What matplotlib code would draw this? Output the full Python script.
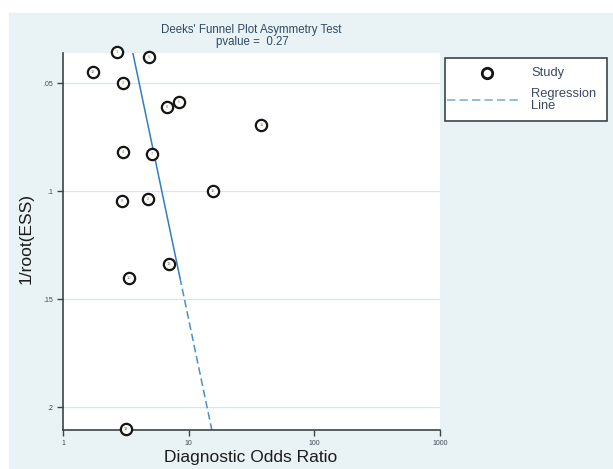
import numpy as np
import matplotlib
matplotlib.use("Agg")
import matplotlib.pyplot as plt
from matplotlib.patches import Rectangle
from matplotlib.lines import Line2D

plt.rcParams['font.family'] = ['Liberation Sans', 'DejaVu Sans']

# study points: diagnostic odds ratio vs 1/root(ESS)
dor = [2.68, 4.82, 1.73, 2.99, 6.69, 8.33, 37.9, 2.99, 5.09, 15.5, 2.94, 4.73, 6.94, 3.34, 3.16]
inv_ess = [0.0356, 0.0380, 0.0449, 0.0500, 0.0611, 0.0588, 0.0694, 0.0819, 0.0829,
           0.1000, 0.1046, 0.1037, 0.1338, 0.1403, 0.2102]
study_id = ['1', '6', '12', '3', '8', '5', '11', '4', '7', '15', '9', '2', '13', '10', '14']

# regression line: log10(DOR) = a + b * 1/root(ESS)
reg_a = 0.4264
reg_b = 3.599
solid_until = 0.14

xticks = [1, 10, 100, 1000]
xtick_labels = ['1', '10', '100', '1000']
yticks = [0.05, 0.10, 0.15, 0.20]
ytick_labels = ['.05', '.1', '.15', '.2']
ylim = (0.2106, 0.036)

W, H = 613, 469
fig = plt.figure(figsize=(W / 100, H / 100), dpi=100, facecolor='white')
fig.patches.append(Rectangle((9 / W, 0), 1, 456 / H, transform=fig.transFigure,
                             color='#e9f2f4', zorder=-10))

ax = fig.add_axes([63 / W, 1 - 430 / H, 377 / W, 377 / H])
ax.set_zorder(1)
ax.set_facecolor('white')
ax.set_xscale('log')
ax.set_xlim(1, 1000)
ax.set_ylim(*ylim)

for s in ['top', 'right']:
    ax.spines[s].set_visible(False)
for s in ['left', 'bottom']:
    ax.spines[s].set_color('#3c4448')
    ax.spines[s].set_linewidth(1.2)

ax.set_xticks(xticks)
ax.set_xticklabels(xtick_labels)
ax.set_yticks(yticks)
ax.set_yticklabels(ytick_labels)
ax.minorticks_off()
ax.tick_params(direction='out', length=4, width=1, colors='#3c4448',
               labelsize=5, labelcolor='#3c4a55', pad=3)
for y in yticks:
    ax.axhline(y, color='#d4e8ef', lw=0.9, zorder=1)

# regression line (solid part near top, dashed below)
y1 = np.array([ylim[1], solid_until])
y2 = np.array([solid_until, ylim[0]])
ax.plot(10 ** (reg_a + reg_b * y1), y1, '-', color='#2f7fc0', lw=1.1, zorder=2)
ax.plot(10 ** (reg_a + reg_b * y2), y2, '--', color='#4a90c8', lw=1.1,
        dashes=(5, 2.5), zorder=2)

ax.scatter(dor, inv_ess, s=66, facecolor='#fbfbf8', edgecolor='#151515',
           linewidth=1.6, zorder=3, clip_on=False)
for x, y, t in zip(dor, inv_ess, study_id):
    ax.text(x, y, t, fontsize=2.8, color='#777777', ha='center', va='center', zorder=4)

fig.text(251 / W, 1 - 30 / H, "Deeks' Funnel Plot Asymmetry Test", ha='center', va='center',
         fontsize=8.3, color='#2e4a62')
fig.text(252 / W, 1 - 41.5 / H, "pvalue =  0.27", ha='center', va='center',
         fontsize=8.3, color='#2e4a62')
fig.text(251 / W, 1 - 462 / H, 'Diagnostic Odds Ratio', ha='center', va='baseline',
         fontsize=12.5, color='#1c1c1c')
fig.text(26 / W, 1 - 238 / H, '1/root(ESS)', ha='center', va='center', rotation=90,
         fontsize=12.5, color='#1c1c1c')

# legend
fig.patches.append(Rectangle((445 / W, 1 - 121 / H), 162 / W, 63 / H, transform=fig.transFigure,
                             facecolor='white', edgecolor='#3c4448', lw=1.2, zorder=5))
fig.lines.append(Line2D([487 / W], [1 - 73 / H], transform=fig.transFigure, marker='o',
                        markersize=7.5, markerfacecolor='white', markeredgecolor='#151515',
                        markeredgewidth=2.0, zorder=6))
fig.lines.append(Line2D([447 / W, 519 / W], [1 - 100 / H, 1 - 100 / H], transform=fig.transFigure,
                        color='#7fb3d6', lw=1.2, ls='--', dashes=(5, 2.5), zorder=6))
fig.text(531 / W, 1 - 73 / H, 'Study', ha='left', va='center', fontsize=9.3,
         color='#3a4a60', zorder=6)
fig.text(531 / W, 1 - 100 / H, 'Regression\nLine', ha='left', va='center', fontsize=9.3,
         color='#3a4a60', linespacing=0.95, zorder=6)

fig.savefig('out.png', dpi=100, facecolor='white')
